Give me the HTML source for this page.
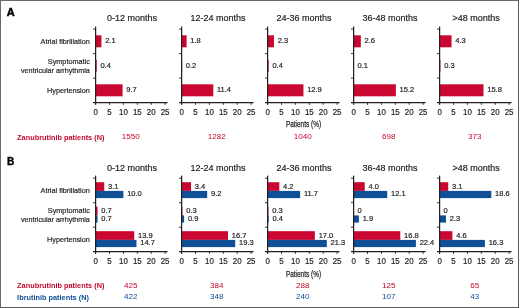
<!DOCTYPE html>
<html lang="en"><head><meta charset="utf-8"><title>Figure</title>
<style>
html,body{margin:0;padding:0;background:#fff;}
body{width:520px;height:308px;overflow:hidden;position:relative;}
svg{position:absolute;left:0;top:0;display:block;will-change:transform;font-family:'Liberation Sans', Arial, Helvetica, sans-serif;}
.frame{position:absolute;left:0;top:0;width:516.5px;height:305.7px;border:1px solid #5a5a5a;border-left-color:#6a6a6a;border-top-color:#6a6a6a;border-right-width:1.4px;}
</style></head><body>
<div class="frame"></div>
<svg width="520" height="308" viewBox="0 0 520 308">
<text x="0.00" y="0.00" font-size="10.5" text-anchor="start" fill="#000" font-weight="bold" stroke="#000" stroke-width="0.45" transform="translate(6.70,15.80) scale(1.05,1)">A</text>
<text x="0.00" y="0.00" font-size="8.0" text-anchor="end" fill="#231f20" font-weight="normal"  transform="translate(89.80,44.00) scale(0.91,1)" stroke="#231f20" stroke-width="0.2">Atrial fibrillation</text>
<text x="0.00" y="0.00" font-size="8.0" text-anchor="end" fill="#231f20" font-weight="normal"  transform="translate(89.80,63.80) scale(0.91,1)" stroke="#231f20" stroke-width="0.2">Symptomatic</text>
<text x="0.00" y="0.00" font-size="8.0" text-anchor="end" fill="#231f20" font-weight="normal" textLength="75.7" lengthAdjust="spacingAndGlyphs" transform="translate(89.80,73.00) scale(0.91,1)" stroke="#231f20" stroke-width="0.2">ventricular arrhythmia</text>
<text x="0.00" y="0.00" font-size="8.0" text-anchor="end" fill="#231f20" font-weight="normal"  transform="translate(89.80,93.00) scale(0.91,1)" stroke="#231f20" stroke-width="0.2">Hypertension</text>
<text x="132.10" y="21.20" font-size="9" text-anchor="middle" fill="#231f20" font-weight="normal"  stroke="#231f20" stroke-width="0.2">0-12 months</text>
<rect x="95.60" y="35.30" width="5.84" height="12" fill="#ca0730"/>
<text x="105.14" y="43.10" font-size="7.5" text-anchor="start" fill="#231f20" font-weight="normal"  stroke="#231f20" stroke-width="0.2">2.1</text>
<rect x="95.60" y="59.80" width="1.11" height="12" fill="#ca0730"/>
<text x="100.41" y="67.60" font-size="7.5" text-anchor="start" fill="#231f20" font-weight="normal"  stroke="#231f20" stroke-width="0.2">0.4</text>
<rect x="95.60" y="84.30" width="26.97" height="12" fill="#ca0730"/>
<text x="126.27" y="92.10" font-size="7.5" text-anchor="start" fill="#231f20" font-weight="normal"  stroke="#231f20" stroke-width="0.2">9.7</text>
<line x1="95.60" y1="26.50" x2="95.60" y2="104.80" stroke="#231f20" stroke-width="1.25"/>
<line x1="93.00" y1="102.60" x2="167.60" y2="102.60" stroke="#231f20" stroke-width="1.25"/>
<line x1="93.00" y1="29.10" x2="95.60" y2="29.10" stroke="#231f20" stroke-width="0.9"/>
<line x1="93.00" y1="53.60" x2="95.60" y2="53.60" stroke="#231f20" stroke-width="0.9"/>
<line x1="93.00" y1="78.10" x2="95.60" y2="78.10" stroke="#231f20" stroke-width="0.9"/>
<text x="0.00" y="0.00" font-size="8.7" text-anchor="middle" fill="#231f20" font-weight="normal" transform="translate(95.60,115.40) scale(0.91,1)" stroke="#231f20" stroke-width="0.2">0</text>
<line x1="109.50" y1="102.60" x2="109.50" y2="104.80" stroke="#231f20" stroke-width="0.9"/>
<text x="0.00" y="0.00" font-size="8.7" text-anchor="middle" fill="#231f20" font-weight="normal" transform="translate(109.50,115.40) scale(0.91,1)" stroke="#231f20" stroke-width="0.2">5</text>
<line x1="123.40" y1="102.60" x2="123.40" y2="104.80" stroke="#231f20" stroke-width="0.9"/>
<text x="0.00" y="0.00" font-size="8.7" text-anchor="middle" fill="#231f20" font-weight="normal" transform="translate(123.40,115.40) scale(0.91,1)" stroke="#231f20" stroke-width="0.2">10</text>
<line x1="137.30" y1="102.60" x2="137.30" y2="104.80" stroke="#231f20" stroke-width="0.9"/>
<text x="0.00" y="0.00" font-size="8.7" text-anchor="middle" fill="#231f20" font-weight="normal" transform="translate(137.30,115.40) scale(0.91,1)" stroke="#231f20" stroke-width="0.2">15</text>
<line x1="151.20" y1="102.60" x2="151.20" y2="104.80" stroke="#231f20" stroke-width="0.9"/>
<text x="0.00" y="0.00" font-size="8.7" text-anchor="middle" fill="#231f20" font-weight="normal" transform="translate(151.20,115.40) scale(0.91,1)" stroke="#231f20" stroke-width="0.2">20</text>
<line x1="165.10" y1="102.60" x2="165.10" y2="104.80" stroke="#231f20" stroke-width="0.9"/>
<text x="0.00" y="0.00" font-size="8.7" text-anchor="middle" fill="#231f20" font-weight="normal" transform="translate(165.10,115.40) scale(0.91,1)" stroke="#231f20" stroke-width="0.2">25</text>
<text x="130.70" y="139.10" font-size="8.1" text-anchor="middle" fill="#c20a2d" font-weight="normal" stroke="none">1550</text>
<text x="218.10" y="21.20" font-size="9" text-anchor="middle" fill="#231f20" font-weight="normal"  stroke="#231f20" stroke-width="0.2">12-24 months</text>
<rect x="181.60" y="35.30" width="5.00" height="12" fill="#ca0730"/>
<text x="190.30" y="43.10" font-size="7.5" text-anchor="start" fill="#231f20" font-weight="normal"  stroke="#231f20" stroke-width="0.2">1.8</text>
<rect x="181.60" y="59.80" width="0.56" height="12" fill="#ca0730"/>
<text x="185.86" y="67.60" font-size="7.5" text-anchor="start" fill="#231f20" font-weight="normal"  stroke="#231f20" stroke-width="0.2">0.2</text>
<rect x="181.60" y="84.30" width="31.69" height="12" fill="#ca0730"/>
<text x="216.99" y="92.10" font-size="7.5" text-anchor="start" fill="#231f20" font-weight="normal"  stroke="#231f20" stroke-width="0.2">11.4</text>
<line x1="181.60" y1="26.50" x2="181.60" y2="104.80" stroke="#231f20" stroke-width="1.25"/>
<line x1="179.00" y1="102.60" x2="253.60" y2="102.60" stroke="#231f20" stroke-width="1.25"/>
<line x1="179.00" y1="29.10" x2="181.60" y2="29.10" stroke="#231f20" stroke-width="0.9"/>
<line x1="179.00" y1="53.60" x2="181.60" y2="53.60" stroke="#231f20" stroke-width="0.9"/>
<line x1="179.00" y1="78.10" x2="181.60" y2="78.10" stroke="#231f20" stroke-width="0.9"/>
<text x="0.00" y="0.00" font-size="8.7" text-anchor="middle" fill="#231f20" font-weight="normal" transform="translate(181.60,115.40) scale(0.91,1)" stroke="#231f20" stroke-width="0.2">0</text>
<line x1="195.50" y1="102.60" x2="195.50" y2="104.80" stroke="#231f20" stroke-width="0.9"/>
<text x="0.00" y="0.00" font-size="8.7" text-anchor="middle" fill="#231f20" font-weight="normal" transform="translate(195.50,115.40) scale(0.91,1)" stroke="#231f20" stroke-width="0.2">5</text>
<line x1="209.40" y1="102.60" x2="209.40" y2="104.80" stroke="#231f20" stroke-width="0.9"/>
<text x="0.00" y="0.00" font-size="8.7" text-anchor="middle" fill="#231f20" font-weight="normal" transform="translate(209.40,115.40) scale(0.91,1)" stroke="#231f20" stroke-width="0.2">10</text>
<line x1="223.30" y1="102.60" x2="223.30" y2="104.80" stroke="#231f20" stroke-width="0.9"/>
<text x="0.00" y="0.00" font-size="8.7" text-anchor="middle" fill="#231f20" font-weight="normal" transform="translate(223.30,115.40) scale(0.91,1)" stroke="#231f20" stroke-width="0.2">15</text>
<line x1="237.20" y1="102.60" x2="237.20" y2="104.80" stroke="#231f20" stroke-width="0.9"/>
<text x="0.00" y="0.00" font-size="8.7" text-anchor="middle" fill="#231f20" font-weight="normal" transform="translate(237.20,115.40) scale(0.91,1)" stroke="#231f20" stroke-width="0.2">20</text>
<line x1="251.10" y1="102.60" x2="251.10" y2="104.80" stroke="#231f20" stroke-width="0.9"/>
<text x="0.00" y="0.00" font-size="8.7" text-anchor="middle" fill="#231f20" font-weight="normal" transform="translate(251.10,115.40) scale(0.91,1)" stroke="#231f20" stroke-width="0.2">25</text>
<text x="216.70" y="139.10" font-size="8.1" text-anchor="middle" fill="#c20a2d" font-weight="normal" stroke="none">1282</text>
<text x="304.10" y="21.20" font-size="9" text-anchor="middle" fill="#231f20" font-weight="normal"  stroke="#231f20" stroke-width="0.2">24-36 months</text>
<rect x="267.60" y="35.30" width="6.39" height="12" fill="#ca0730"/>
<text x="277.69" y="43.10" font-size="7.5" text-anchor="start" fill="#231f20" font-weight="normal"  stroke="#231f20" stroke-width="0.2">2.3</text>
<rect x="267.60" y="59.80" width="1.11" height="12" fill="#ca0730"/>
<text x="272.41" y="67.60" font-size="7.5" text-anchor="start" fill="#231f20" font-weight="normal"  stroke="#231f20" stroke-width="0.2">0.4</text>
<rect x="267.60" y="84.30" width="35.86" height="12" fill="#ca0730"/>
<text x="307.16" y="92.10" font-size="7.5" text-anchor="start" fill="#231f20" font-weight="normal"  stroke="#231f20" stroke-width="0.2">12.9</text>
<line x1="267.60" y1="26.50" x2="267.60" y2="104.80" stroke="#231f20" stroke-width="1.25"/>
<line x1="265.00" y1="102.60" x2="339.60" y2="102.60" stroke="#231f20" stroke-width="1.25"/>
<line x1="265.00" y1="29.10" x2="267.60" y2="29.10" stroke="#231f20" stroke-width="0.9"/>
<line x1="265.00" y1="53.60" x2="267.60" y2="53.60" stroke="#231f20" stroke-width="0.9"/>
<line x1="265.00" y1="78.10" x2="267.60" y2="78.10" stroke="#231f20" stroke-width="0.9"/>
<text x="0.00" y="0.00" font-size="8.7" text-anchor="middle" fill="#231f20" font-weight="normal" transform="translate(267.60,115.40) scale(0.91,1)" stroke="#231f20" stroke-width="0.2">0</text>
<line x1="281.50" y1="102.60" x2="281.50" y2="104.80" stroke="#231f20" stroke-width="0.9"/>
<text x="0.00" y="0.00" font-size="8.7" text-anchor="middle" fill="#231f20" font-weight="normal" transform="translate(281.50,115.40) scale(0.91,1)" stroke="#231f20" stroke-width="0.2">5</text>
<line x1="295.40" y1="102.60" x2="295.40" y2="104.80" stroke="#231f20" stroke-width="0.9"/>
<text x="0.00" y="0.00" font-size="8.7" text-anchor="middle" fill="#231f20" font-weight="normal" transform="translate(295.40,115.40) scale(0.91,1)" stroke="#231f20" stroke-width="0.2">10</text>
<line x1="309.30" y1="102.60" x2="309.30" y2="104.80" stroke="#231f20" stroke-width="0.9"/>
<text x="0.00" y="0.00" font-size="8.7" text-anchor="middle" fill="#231f20" font-weight="normal" transform="translate(309.30,115.40) scale(0.91,1)" stroke="#231f20" stroke-width="0.2">15</text>
<line x1="323.20" y1="102.60" x2="323.20" y2="104.80" stroke="#231f20" stroke-width="0.9"/>
<text x="0.00" y="0.00" font-size="8.7" text-anchor="middle" fill="#231f20" font-weight="normal" transform="translate(323.20,115.40) scale(0.91,1)" stroke="#231f20" stroke-width="0.2">20</text>
<line x1="337.10" y1="102.60" x2="337.10" y2="104.80" stroke="#231f20" stroke-width="0.9"/>
<text x="0.00" y="0.00" font-size="8.7" text-anchor="middle" fill="#231f20" font-weight="normal" transform="translate(337.10,115.40) scale(0.91,1)" stroke="#231f20" stroke-width="0.2">25</text>
<text x="302.70" y="139.10" font-size="8.1" text-anchor="middle" fill="#c20a2d" font-weight="normal" stroke="none">1040</text>
<text x="390.10" y="21.20" font-size="9" text-anchor="middle" fill="#231f20" font-weight="normal"  stroke="#231f20" stroke-width="0.2">36-48 months</text>
<rect x="353.60" y="35.30" width="7.23" height="12" fill="#ca0730"/>
<text x="364.53" y="43.10" font-size="7.5" text-anchor="start" fill="#231f20" font-weight="normal"  stroke="#231f20" stroke-width="0.2">2.6</text>
<rect x="353.60" y="59.80" width="0.28" height="12" fill="#ca0730"/>
<text x="357.58" y="67.60" font-size="7.5" text-anchor="start" fill="#231f20" font-weight="normal"  stroke="#231f20" stroke-width="0.2">0.1</text>
<rect x="353.60" y="84.30" width="42.26" height="12" fill="#ca0730"/>
<text x="399.56" y="92.10" font-size="7.5" text-anchor="start" fill="#231f20" font-weight="normal"  stroke="#231f20" stroke-width="0.2">15.2</text>
<line x1="353.60" y1="26.50" x2="353.60" y2="104.80" stroke="#231f20" stroke-width="1.25"/>
<line x1="351.00" y1="102.60" x2="425.60" y2="102.60" stroke="#231f20" stroke-width="1.25"/>
<line x1="351.00" y1="29.10" x2="353.60" y2="29.10" stroke="#231f20" stroke-width="0.9"/>
<line x1="351.00" y1="53.60" x2="353.60" y2="53.60" stroke="#231f20" stroke-width="0.9"/>
<line x1="351.00" y1="78.10" x2="353.60" y2="78.10" stroke="#231f20" stroke-width="0.9"/>
<text x="0.00" y="0.00" font-size="8.7" text-anchor="middle" fill="#231f20" font-weight="normal" transform="translate(353.60,115.40) scale(0.91,1)" stroke="#231f20" stroke-width="0.2">0</text>
<line x1="367.50" y1="102.60" x2="367.50" y2="104.80" stroke="#231f20" stroke-width="0.9"/>
<text x="0.00" y="0.00" font-size="8.7" text-anchor="middle" fill="#231f20" font-weight="normal" transform="translate(367.50,115.40) scale(0.91,1)" stroke="#231f20" stroke-width="0.2">5</text>
<line x1="381.40" y1="102.60" x2="381.40" y2="104.80" stroke="#231f20" stroke-width="0.9"/>
<text x="0.00" y="0.00" font-size="8.7" text-anchor="middle" fill="#231f20" font-weight="normal" transform="translate(381.40,115.40) scale(0.91,1)" stroke="#231f20" stroke-width="0.2">10</text>
<line x1="395.30" y1="102.60" x2="395.30" y2="104.80" stroke="#231f20" stroke-width="0.9"/>
<text x="0.00" y="0.00" font-size="8.7" text-anchor="middle" fill="#231f20" font-weight="normal" transform="translate(395.30,115.40) scale(0.91,1)" stroke="#231f20" stroke-width="0.2">15</text>
<line x1="409.20" y1="102.60" x2="409.20" y2="104.80" stroke="#231f20" stroke-width="0.9"/>
<text x="0.00" y="0.00" font-size="8.7" text-anchor="middle" fill="#231f20" font-weight="normal" transform="translate(409.20,115.40) scale(0.91,1)" stroke="#231f20" stroke-width="0.2">20</text>
<line x1="423.10" y1="102.60" x2="423.10" y2="104.80" stroke="#231f20" stroke-width="0.9"/>
<text x="0.00" y="0.00" font-size="8.7" text-anchor="middle" fill="#231f20" font-weight="normal" transform="translate(423.10,115.40) scale(0.91,1)" stroke="#231f20" stroke-width="0.2">25</text>
<text x="388.70" y="139.10" font-size="8.1" text-anchor="middle" fill="#c20a2d" font-weight="normal" stroke="none">698</text>
<text x="476.10" y="21.20" font-size="9" text-anchor="middle" fill="#231f20" font-weight="normal"  stroke="#231f20" stroke-width="0.2">&gt;48 months</text>
<rect x="439.60" y="35.30" width="11.95" height="12" fill="#ca0730"/>
<text x="455.25" y="43.10" font-size="7.5" text-anchor="start" fill="#231f20" font-weight="normal"  stroke="#231f20" stroke-width="0.2">4.3</text>
<rect x="439.60" y="59.80" width="0.83" height="12" fill="#ca0730"/>
<text x="444.13" y="67.60" font-size="7.5" text-anchor="start" fill="#231f20" font-weight="normal"  stroke="#231f20" stroke-width="0.2">0.3</text>
<rect x="439.60" y="84.30" width="43.92" height="12" fill="#ca0730"/>
<text x="487.22" y="92.10" font-size="7.5" text-anchor="start" fill="#231f20" font-weight="normal"  stroke="#231f20" stroke-width="0.2">15.8</text>
<line x1="439.60" y1="26.50" x2="439.60" y2="104.80" stroke="#231f20" stroke-width="1.25"/>
<line x1="437.00" y1="102.60" x2="511.60" y2="102.60" stroke="#231f20" stroke-width="1.25"/>
<line x1="437.00" y1="29.10" x2="439.60" y2="29.10" stroke="#231f20" stroke-width="0.9"/>
<line x1="437.00" y1="53.60" x2="439.60" y2="53.60" stroke="#231f20" stroke-width="0.9"/>
<line x1="437.00" y1="78.10" x2="439.60" y2="78.10" stroke="#231f20" stroke-width="0.9"/>
<text x="0.00" y="0.00" font-size="8.7" text-anchor="middle" fill="#231f20" font-weight="normal" transform="translate(439.60,115.40) scale(0.91,1)" stroke="#231f20" stroke-width="0.2">0</text>
<line x1="453.50" y1="102.60" x2="453.50" y2="104.80" stroke="#231f20" stroke-width="0.9"/>
<text x="0.00" y="0.00" font-size="8.7" text-anchor="middle" fill="#231f20" font-weight="normal" transform="translate(453.50,115.40) scale(0.91,1)" stroke="#231f20" stroke-width="0.2">5</text>
<line x1="467.40" y1="102.60" x2="467.40" y2="104.80" stroke="#231f20" stroke-width="0.9"/>
<text x="0.00" y="0.00" font-size="8.7" text-anchor="middle" fill="#231f20" font-weight="normal" transform="translate(467.40,115.40) scale(0.91,1)" stroke="#231f20" stroke-width="0.2">10</text>
<line x1="481.30" y1="102.60" x2="481.30" y2="104.80" stroke="#231f20" stroke-width="0.9"/>
<text x="0.00" y="0.00" font-size="8.7" text-anchor="middle" fill="#231f20" font-weight="normal" transform="translate(481.30,115.40) scale(0.91,1)" stroke="#231f20" stroke-width="0.2">15</text>
<line x1="495.20" y1="102.60" x2="495.20" y2="104.80" stroke="#231f20" stroke-width="0.9"/>
<text x="0.00" y="0.00" font-size="8.7" text-anchor="middle" fill="#231f20" font-weight="normal" transform="translate(495.20,115.40) scale(0.91,1)" stroke="#231f20" stroke-width="0.2">20</text>
<line x1="509.10" y1="102.60" x2="509.10" y2="104.80" stroke="#231f20" stroke-width="0.9"/>
<text x="0.00" y="0.00" font-size="8.7" text-anchor="middle" fill="#231f20" font-weight="normal" transform="translate(509.10,115.40) scale(0.91,1)" stroke="#231f20" stroke-width="0.2">25</text>
<text x="474.70" y="139.10" font-size="8.1" text-anchor="middle" fill="#c20a2d" font-weight="normal" stroke="none">373</text>
<text x="303.50" y="127.10" font-size="9" text-anchor="middle" fill="#231f20" font-weight="normal" textLength="35.2" lengthAdjust="spacingAndGlyphs" stroke="#231f20" stroke-width="0.25">Patients (%)</text>
<text x="0.00" y="0.00" font-size="8.0" text-anchor="start" fill="#c20a2d" font-weight="bold"  transform="translate(17.10,139.60) scale(0.92,1)">Zanubrutinib patients (N)</text>
<text x="0.00" y="0.00" font-size="10.3" text-anchor="start" fill="#000" font-weight="bold" stroke="#000" stroke-width="0.35" transform="translate(7.00,165.00) scale(0.98,1)">B</text>
<text x="0.00" y="0.00" font-size="8.0" text-anchor="end" fill="#231f20" font-weight="normal"  transform="translate(89.80,193.10) scale(0.91,1)" stroke="#231f20" stroke-width="0.2">Atrial fibrillation</text>
<text x="0.00" y="0.00" font-size="8.0" text-anchor="end" fill="#231f20" font-weight="normal"  transform="translate(89.80,212.90) scale(0.91,1)" stroke="#231f20" stroke-width="0.2">Symptomatic</text>
<text x="0.00" y="0.00" font-size="8.0" text-anchor="end" fill="#231f20" font-weight="normal" textLength="75.7" lengthAdjust="spacingAndGlyphs" transform="translate(89.80,222.10) scale(0.91,1)" stroke="#231f20" stroke-width="0.2">ventricular arrhythmia</text>
<text x="0.00" y="0.00" font-size="8.0" text-anchor="end" fill="#231f20" font-weight="normal"  transform="translate(89.80,242.10) scale(0.91,1)" stroke="#231f20" stroke-width="0.2">Hypertension</text>
<text x="132.10" y="170.60" font-size="9" text-anchor="middle" fill="#231f20" font-weight="normal"  stroke="#231f20" stroke-width="0.2">0-12 months</text>
<rect x="95.60" y="182.20" width="8.62" height="8.7" fill="#ca0730"/>
<rect x="95.60" y="190.90" width="27.80" height="7.2" fill="#0e4f95"/>
<text x="108.02" y="188.50" font-size="7.5" text-anchor="start" fill="#231f20" font-weight="normal"  stroke="#231f20" stroke-width="0.2">3.1</text>
<text x="127.20" y="196.40" font-size="7.5" text-anchor="start" fill="#231f20" font-weight="normal"  stroke="#231f20" stroke-width="0.2">10.0</text>
<rect x="95.60" y="206.70" width="1.95" height="8.7" fill="#ca0730"/>
<rect x="95.60" y="215.40" width="1.95" height="7.2" fill="#0e4f95"/>
<text x="101.35" y="213.00" font-size="7.5" text-anchor="start" fill="#231f20" font-weight="normal"  stroke="#231f20" stroke-width="0.2">0.7</text>
<text x="101.35" y="220.90" font-size="7.5" text-anchor="start" fill="#231f20" font-weight="normal"  stroke="#231f20" stroke-width="0.2">0.7</text>
<rect x="95.60" y="231.20" width="38.64" height="8.7" fill="#ca0730"/>
<rect x="95.60" y="239.90" width="40.87" height="7.2" fill="#0e4f95"/>
<text x="138.04" y="237.50" font-size="7.5" text-anchor="start" fill="#231f20" font-weight="normal"  stroke="#231f20" stroke-width="0.2">13.9</text>
<text x="140.27" y="245.40" font-size="7.5" text-anchor="start" fill="#231f20" font-weight="normal"  stroke="#231f20" stroke-width="0.2">14.7</text>
<line x1="95.60" y1="175.60" x2="95.60" y2="253.90" stroke="#231f20" stroke-width="1.25"/>
<line x1="93.00" y1="251.70" x2="167.60" y2="251.70" stroke="#231f20" stroke-width="1.25"/>
<line x1="93.00" y1="178.20" x2="95.60" y2="178.20" stroke="#231f20" stroke-width="0.9"/>
<line x1="93.00" y1="202.70" x2="95.60" y2="202.70" stroke="#231f20" stroke-width="0.9"/>
<line x1="93.00" y1="227.20" x2="95.60" y2="227.20" stroke="#231f20" stroke-width="0.9"/>
<text x="0.00" y="0.00" font-size="8.7" text-anchor="middle" fill="#231f20" font-weight="normal" transform="translate(95.60,264.10) scale(0.91,1)" stroke="#231f20" stroke-width="0.2">0</text>
<line x1="109.50" y1="251.70" x2="109.50" y2="253.90" stroke="#231f20" stroke-width="0.9"/>
<text x="0.00" y="0.00" font-size="8.7" text-anchor="middle" fill="#231f20" font-weight="normal" transform="translate(109.50,264.10) scale(0.91,1)" stroke="#231f20" stroke-width="0.2">5</text>
<line x1="123.40" y1="251.70" x2="123.40" y2="253.90" stroke="#231f20" stroke-width="0.9"/>
<text x="0.00" y="0.00" font-size="8.7" text-anchor="middle" fill="#231f20" font-weight="normal" transform="translate(123.40,264.10) scale(0.91,1)" stroke="#231f20" stroke-width="0.2">10</text>
<line x1="137.30" y1="251.70" x2="137.30" y2="253.90" stroke="#231f20" stroke-width="0.9"/>
<text x="0.00" y="0.00" font-size="8.7" text-anchor="middle" fill="#231f20" font-weight="normal" transform="translate(137.30,264.10) scale(0.91,1)" stroke="#231f20" stroke-width="0.2">15</text>
<line x1="151.20" y1="251.70" x2="151.20" y2="253.90" stroke="#231f20" stroke-width="0.9"/>
<text x="0.00" y="0.00" font-size="8.7" text-anchor="middle" fill="#231f20" font-weight="normal" transform="translate(151.20,264.10) scale(0.91,1)" stroke="#231f20" stroke-width="0.2">20</text>
<line x1="165.10" y1="251.70" x2="165.10" y2="253.90" stroke="#231f20" stroke-width="0.9"/>
<text x="0.00" y="0.00" font-size="8.7" text-anchor="middle" fill="#231f20" font-weight="normal" transform="translate(165.10,264.10) scale(0.91,1)" stroke="#231f20" stroke-width="0.2">25</text>
<text x="130.70" y="288.10" font-size="8.1" text-anchor="middle" fill="#c20a2d" font-weight="normal" stroke="none">425</text>
<text x="130.70" y="299.40" font-size="8.1" text-anchor="middle" fill="#0e4f95" font-weight="normal" stroke="none">422</text>
<text x="218.10" y="170.60" font-size="9" text-anchor="middle" fill="#231f20" font-weight="normal"  stroke="#231f20" stroke-width="0.2">12-24 months</text>
<rect x="181.60" y="182.20" width="9.45" height="8.7" fill="#ca0730"/>
<rect x="181.60" y="190.90" width="25.58" height="7.2" fill="#0e4f95"/>
<text x="194.85" y="188.50" font-size="7.5" text-anchor="start" fill="#231f20" font-weight="normal"  stroke="#231f20" stroke-width="0.2">3.4</text>
<text x="210.98" y="196.40" font-size="7.5" text-anchor="start" fill="#231f20" font-weight="normal"  stroke="#231f20" stroke-width="0.2">9.2</text>
<rect x="181.60" y="206.70" width="0.83" height="8.7" fill="#ca0730"/>
<rect x="181.60" y="215.40" width="2.50" height="7.2" fill="#0e4f95"/>
<text x="186.23" y="213.00" font-size="7.5" text-anchor="start" fill="#231f20" font-weight="normal"  stroke="#231f20" stroke-width="0.2">0.3</text>
<text x="187.90" y="220.90" font-size="7.5" text-anchor="start" fill="#231f20" font-weight="normal"  stroke="#231f20" stroke-width="0.2">0.9</text>
<rect x="181.60" y="231.20" width="46.43" height="8.7" fill="#ca0730"/>
<rect x="181.60" y="239.90" width="53.65" height="7.2" fill="#0e4f95"/>
<text x="231.83" y="237.50" font-size="7.5" text-anchor="start" fill="#231f20" font-weight="normal"  stroke="#231f20" stroke-width="0.2">16.7</text>
<text x="239.05" y="245.40" font-size="7.5" text-anchor="start" fill="#231f20" font-weight="normal"  stroke="#231f20" stroke-width="0.2">19.3</text>
<line x1="181.60" y1="175.60" x2="181.60" y2="253.90" stroke="#231f20" stroke-width="1.25"/>
<line x1="179.00" y1="251.70" x2="253.60" y2="251.70" stroke="#231f20" stroke-width="1.25"/>
<line x1="179.00" y1="178.20" x2="181.60" y2="178.20" stroke="#231f20" stroke-width="0.9"/>
<line x1="179.00" y1="202.70" x2="181.60" y2="202.70" stroke="#231f20" stroke-width="0.9"/>
<line x1="179.00" y1="227.20" x2="181.60" y2="227.20" stroke="#231f20" stroke-width="0.9"/>
<text x="0.00" y="0.00" font-size="8.7" text-anchor="middle" fill="#231f20" font-weight="normal" transform="translate(181.60,264.10) scale(0.91,1)" stroke="#231f20" stroke-width="0.2">0</text>
<line x1="195.50" y1="251.70" x2="195.50" y2="253.90" stroke="#231f20" stroke-width="0.9"/>
<text x="0.00" y="0.00" font-size="8.7" text-anchor="middle" fill="#231f20" font-weight="normal" transform="translate(195.50,264.10) scale(0.91,1)" stroke="#231f20" stroke-width="0.2">5</text>
<line x1="209.40" y1="251.70" x2="209.40" y2="253.90" stroke="#231f20" stroke-width="0.9"/>
<text x="0.00" y="0.00" font-size="8.7" text-anchor="middle" fill="#231f20" font-weight="normal" transform="translate(209.40,264.10) scale(0.91,1)" stroke="#231f20" stroke-width="0.2">10</text>
<line x1="223.30" y1="251.70" x2="223.30" y2="253.90" stroke="#231f20" stroke-width="0.9"/>
<text x="0.00" y="0.00" font-size="8.7" text-anchor="middle" fill="#231f20" font-weight="normal" transform="translate(223.30,264.10) scale(0.91,1)" stroke="#231f20" stroke-width="0.2">15</text>
<line x1="237.20" y1="251.70" x2="237.20" y2="253.90" stroke="#231f20" stroke-width="0.9"/>
<text x="0.00" y="0.00" font-size="8.7" text-anchor="middle" fill="#231f20" font-weight="normal" transform="translate(237.20,264.10) scale(0.91,1)" stroke="#231f20" stroke-width="0.2">20</text>
<line x1="251.10" y1="251.70" x2="251.10" y2="253.90" stroke="#231f20" stroke-width="0.9"/>
<text x="0.00" y="0.00" font-size="8.7" text-anchor="middle" fill="#231f20" font-weight="normal" transform="translate(251.10,264.10) scale(0.91,1)" stroke="#231f20" stroke-width="0.2">25</text>
<text x="216.70" y="288.10" font-size="8.1" text-anchor="middle" fill="#c20a2d" font-weight="normal" stroke="none">384</text>
<text x="216.70" y="299.40" font-size="8.1" text-anchor="middle" fill="#0e4f95" font-weight="normal" stroke="none">348</text>
<text x="304.10" y="170.60" font-size="9" text-anchor="middle" fill="#231f20" font-weight="normal"  stroke="#231f20" stroke-width="0.2">24-36 months</text>
<rect x="267.60" y="182.20" width="11.68" height="8.7" fill="#ca0730"/>
<rect x="267.60" y="190.90" width="32.53" height="7.2" fill="#0e4f95"/>
<text x="283.08" y="188.50" font-size="7.5" text-anchor="start" fill="#231f20" font-weight="normal"  stroke="#231f20" stroke-width="0.2">4.2</text>
<text x="303.93" y="196.40" font-size="7.5" text-anchor="start" fill="#231f20" font-weight="normal"  stroke="#231f20" stroke-width="0.2">11.7</text>
<rect x="267.60" y="206.70" width="0.83" height="8.7" fill="#ca0730"/>
<rect x="267.60" y="215.40" width="1.11" height="7.2" fill="#0e4f95"/>
<text x="272.23" y="213.00" font-size="7.5" text-anchor="start" fill="#231f20" font-weight="normal"  stroke="#231f20" stroke-width="0.2">0.3</text>
<text x="272.51" y="220.90" font-size="7.5" text-anchor="start" fill="#231f20" font-weight="normal"  stroke="#231f20" stroke-width="0.2">0.4</text>
<rect x="267.60" y="231.20" width="47.26" height="8.7" fill="#ca0730"/>
<rect x="267.60" y="239.90" width="59.21" height="7.2" fill="#0e4f95"/>
<text x="318.66" y="237.50" font-size="7.5" text-anchor="start" fill="#231f20" font-weight="normal"  stroke="#231f20" stroke-width="0.2">17.0</text>
<text x="330.61" y="245.40" font-size="7.5" text-anchor="start" fill="#231f20" font-weight="normal"  stroke="#231f20" stroke-width="0.2">21.3</text>
<line x1="267.60" y1="175.60" x2="267.60" y2="253.90" stroke="#231f20" stroke-width="1.25"/>
<line x1="265.00" y1="251.70" x2="339.60" y2="251.70" stroke="#231f20" stroke-width="1.25"/>
<line x1="265.00" y1="178.20" x2="267.60" y2="178.20" stroke="#231f20" stroke-width="0.9"/>
<line x1="265.00" y1="202.70" x2="267.60" y2="202.70" stroke="#231f20" stroke-width="0.9"/>
<line x1="265.00" y1="227.20" x2="267.60" y2="227.20" stroke="#231f20" stroke-width="0.9"/>
<text x="0.00" y="0.00" font-size="8.7" text-anchor="middle" fill="#231f20" font-weight="normal" transform="translate(267.60,264.10) scale(0.91,1)" stroke="#231f20" stroke-width="0.2">0</text>
<line x1="281.50" y1="251.70" x2="281.50" y2="253.90" stroke="#231f20" stroke-width="0.9"/>
<text x="0.00" y="0.00" font-size="8.7" text-anchor="middle" fill="#231f20" font-weight="normal" transform="translate(281.50,264.10) scale(0.91,1)" stroke="#231f20" stroke-width="0.2">5</text>
<line x1="295.40" y1="251.70" x2="295.40" y2="253.90" stroke="#231f20" stroke-width="0.9"/>
<text x="0.00" y="0.00" font-size="8.7" text-anchor="middle" fill="#231f20" font-weight="normal" transform="translate(295.40,264.10) scale(0.91,1)" stroke="#231f20" stroke-width="0.2">10</text>
<line x1="309.30" y1="251.70" x2="309.30" y2="253.90" stroke="#231f20" stroke-width="0.9"/>
<text x="0.00" y="0.00" font-size="8.7" text-anchor="middle" fill="#231f20" font-weight="normal" transform="translate(309.30,264.10) scale(0.91,1)" stroke="#231f20" stroke-width="0.2">15</text>
<line x1="323.20" y1="251.70" x2="323.20" y2="253.90" stroke="#231f20" stroke-width="0.9"/>
<text x="0.00" y="0.00" font-size="8.7" text-anchor="middle" fill="#231f20" font-weight="normal" transform="translate(323.20,264.10) scale(0.91,1)" stroke="#231f20" stroke-width="0.2">20</text>
<line x1="337.10" y1="251.70" x2="337.10" y2="253.90" stroke="#231f20" stroke-width="0.9"/>
<text x="0.00" y="0.00" font-size="8.7" text-anchor="middle" fill="#231f20" font-weight="normal" transform="translate(337.10,264.10) scale(0.91,1)" stroke="#231f20" stroke-width="0.2">25</text>
<text x="302.70" y="288.10" font-size="8.1" text-anchor="middle" fill="#c20a2d" font-weight="normal" stroke="none">288</text>
<text x="302.70" y="299.40" font-size="8.1" text-anchor="middle" fill="#0e4f95" font-weight="normal" stroke="none">240</text>
<text x="390.10" y="170.60" font-size="9" text-anchor="middle" fill="#231f20" font-weight="normal"  stroke="#231f20" stroke-width="0.2">36-48 months</text>
<rect x="353.60" y="182.20" width="11.12" height="8.7" fill="#ca0730"/>
<rect x="353.60" y="190.90" width="33.64" height="7.2" fill="#0e4f95"/>
<text x="368.52" y="188.50" font-size="7.5" text-anchor="start" fill="#231f20" font-weight="normal"  stroke="#231f20" stroke-width="0.2">4.0</text>
<text x="391.04" y="196.40" font-size="7.5" text-anchor="start" fill="#231f20" font-weight="normal"  stroke="#231f20" stroke-width="0.2">12.1</text>
<rect x="353.60" y="206.70" width="0.00" height="8.7" fill="#ca0730"/>
<rect x="353.60" y="215.40" width="5.28" height="7.2" fill="#0e4f95"/>
<text x="357.40" y="213.00" font-size="7.5" text-anchor="start" fill="#231f20" font-weight="normal"  stroke="#231f20" stroke-width="0.2">0</text>
<text x="362.68" y="220.90" font-size="7.5" text-anchor="start" fill="#231f20" font-weight="normal"  stroke="#231f20" stroke-width="0.2">1.9</text>
<rect x="353.60" y="231.20" width="46.70" height="8.7" fill="#ca0730"/>
<rect x="353.60" y="239.90" width="62.27" height="7.2" fill="#0e4f95"/>
<text x="404.10" y="237.50" font-size="7.5" text-anchor="start" fill="#231f20" font-weight="normal"  stroke="#231f20" stroke-width="0.2">16.8</text>
<text x="419.67" y="245.40" font-size="7.5" text-anchor="start" fill="#231f20" font-weight="normal"  stroke="#231f20" stroke-width="0.2">22.4</text>
<line x1="353.60" y1="175.60" x2="353.60" y2="253.90" stroke="#231f20" stroke-width="1.25"/>
<line x1="351.00" y1="251.70" x2="425.60" y2="251.70" stroke="#231f20" stroke-width="1.25"/>
<line x1="351.00" y1="178.20" x2="353.60" y2="178.20" stroke="#231f20" stroke-width="0.9"/>
<line x1="351.00" y1="202.70" x2="353.60" y2="202.70" stroke="#231f20" stroke-width="0.9"/>
<line x1="351.00" y1="227.20" x2="353.60" y2="227.20" stroke="#231f20" stroke-width="0.9"/>
<text x="0.00" y="0.00" font-size="8.7" text-anchor="middle" fill="#231f20" font-weight="normal" transform="translate(353.60,264.10) scale(0.91,1)" stroke="#231f20" stroke-width="0.2">0</text>
<line x1="367.50" y1="251.70" x2="367.50" y2="253.90" stroke="#231f20" stroke-width="0.9"/>
<text x="0.00" y="0.00" font-size="8.7" text-anchor="middle" fill="#231f20" font-weight="normal" transform="translate(367.50,264.10) scale(0.91,1)" stroke="#231f20" stroke-width="0.2">5</text>
<line x1="381.40" y1="251.70" x2="381.40" y2="253.90" stroke="#231f20" stroke-width="0.9"/>
<text x="0.00" y="0.00" font-size="8.7" text-anchor="middle" fill="#231f20" font-weight="normal" transform="translate(381.40,264.10) scale(0.91,1)" stroke="#231f20" stroke-width="0.2">10</text>
<line x1="395.30" y1="251.70" x2="395.30" y2="253.90" stroke="#231f20" stroke-width="0.9"/>
<text x="0.00" y="0.00" font-size="8.7" text-anchor="middle" fill="#231f20" font-weight="normal" transform="translate(395.30,264.10) scale(0.91,1)" stroke="#231f20" stroke-width="0.2">15</text>
<line x1="409.20" y1="251.70" x2="409.20" y2="253.90" stroke="#231f20" stroke-width="0.9"/>
<text x="0.00" y="0.00" font-size="8.7" text-anchor="middle" fill="#231f20" font-weight="normal" transform="translate(409.20,264.10) scale(0.91,1)" stroke="#231f20" stroke-width="0.2">20</text>
<line x1="423.10" y1="251.70" x2="423.10" y2="253.90" stroke="#231f20" stroke-width="0.9"/>
<text x="0.00" y="0.00" font-size="8.7" text-anchor="middle" fill="#231f20" font-weight="normal" transform="translate(423.10,264.10) scale(0.91,1)" stroke="#231f20" stroke-width="0.2">25</text>
<text x="388.70" y="288.10" font-size="8.1" text-anchor="middle" fill="#c20a2d" font-weight="normal" stroke="none">125</text>
<text x="388.70" y="299.40" font-size="8.1" text-anchor="middle" fill="#0e4f95" font-weight="normal" stroke="none">107</text>
<text x="476.10" y="170.60" font-size="9" text-anchor="middle" fill="#231f20" font-weight="normal"  stroke="#231f20" stroke-width="0.2">&gt;48 months</text>
<rect x="439.60" y="182.20" width="8.62" height="8.7" fill="#ca0730"/>
<rect x="439.60" y="190.90" width="51.71" height="7.2" fill="#0e4f95"/>
<text x="452.02" y="188.50" font-size="7.5" text-anchor="start" fill="#231f20" font-weight="normal"  stroke="#231f20" stroke-width="0.2">3.1</text>
<text x="495.11" y="196.40" font-size="7.5" text-anchor="start" fill="#231f20" font-weight="normal"  stroke="#231f20" stroke-width="0.2">18.6</text>
<rect x="439.60" y="206.70" width="0.00" height="8.7" fill="#ca0730"/>
<rect x="439.60" y="215.40" width="6.39" height="7.2" fill="#0e4f95"/>
<text x="443.40" y="213.00" font-size="7.5" text-anchor="start" fill="#231f20" font-weight="normal"  stroke="#231f20" stroke-width="0.2">0</text>
<text x="449.79" y="220.90" font-size="7.5" text-anchor="start" fill="#231f20" font-weight="normal"  stroke="#231f20" stroke-width="0.2">2.3</text>
<rect x="439.60" y="231.20" width="12.79" height="8.7" fill="#ca0730"/>
<rect x="439.60" y="239.90" width="45.31" height="7.2" fill="#0e4f95"/>
<text x="456.19" y="237.50" font-size="7.5" text-anchor="start" fill="#231f20" font-weight="normal"  stroke="#231f20" stroke-width="0.2">4.6</text>
<text x="488.71" y="245.40" font-size="7.5" text-anchor="start" fill="#231f20" font-weight="normal"  stroke="#231f20" stroke-width="0.2">16.3</text>
<line x1="439.60" y1="175.60" x2="439.60" y2="253.90" stroke="#231f20" stroke-width="1.25"/>
<line x1="437.00" y1="251.70" x2="511.60" y2="251.70" stroke="#231f20" stroke-width="1.25"/>
<line x1="437.00" y1="178.20" x2="439.60" y2="178.20" stroke="#231f20" stroke-width="0.9"/>
<line x1="437.00" y1="202.70" x2="439.60" y2="202.70" stroke="#231f20" stroke-width="0.9"/>
<line x1="437.00" y1="227.20" x2="439.60" y2="227.20" stroke="#231f20" stroke-width="0.9"/>
<text x="0.00" y="0.00" font-size="8.7" text-anchor="middle" fill="#231f20" font-weight="normal" transform="translate(439.60,264.10) scale(0.91,1)" stroke="#231f20" stroke-width="0.2">0</text>
<line x1="453.50" y1="251.70" x2="453.50" y2="253.90" stroke="#231f20" stroke-width="0.9"/>
<text x="0.00" y="0.00" font-size="8.7" text-anchor="middle" fill="#231f20" font-weight="normal" transform="translate(453.50,264.10) scale(0.91,1)" stroke="#231f20" stroke-width="0.2">5</text>
<line x1="467.40" y1="251.70" x2="467.40" y2="253.90" stroke="#231f20" stroke-width="0.9"/>
<text x="0.00" y="0.00" font-size="8.7" text-anchor="middle" fill="#231f20" font-weight="normal" transform="translate(467.40,264.10) scale(0.91,1)" stroke="#231f20" stroke-width="0.2">10</text>
<line x1="481.30" y1="251.70" x2="481.30" y2="253.90" stroke="#231f20" stroke-width="0.9"/>
<text x="0.00" y="0.00" font-size="8.7" text-anchor="middle" fill="#231f20" font-weight="normal" transform="translate(481.30,264.10) scale(0.91,1)" stroke="#231f20" stroke-width="0.2">15</text>
<line x1="495.20" y1="251.70" x2="495.20" y2="253.90" stroke="#231f20" stroke-width="0.9"/>
<text x="0.00" y="0.00" font-size="8.7" text-anchor="middle" fill="#231f20" font-weight="normal" transform="translate(495.20,264.10) scale(0.91,1)" stroke="#231f20" stroke-width="0.2">20</text>
<line x1="509.10" y1="251.70" x2="509.10" y2="253.90" stroke="#231f20" stroke-width="0.9"/>
<text x="0.00" y="0.00" font-size="8.7" text-anchor="middle" fill="#231f20" font-weight="normal" transform="translate(509.10,264.10) scale(0.91,1)" stroke="#231f20" stroke-width="0.2">25</text>
<text x="474.70" y="288.10" font-size="8.1" text-anchor="middle" fill="#c20a2d" font-weight="normal" stroke="none">65</text>
<text x="474.70" y="299.40" font-size="8.1" text-anchor="middle" fill="#0e4f95" font-weight="normal" stroke="none">43</text>
<text x="303.50" y="276.50" font-size="9" text-anchor="middle" fill="#231f20" font-weight="normal" textLength="35.2" lengthAdjust="spacingAndGlyphs" stroke="#231f20" stroke-width="0.25">Patients (%)</text>
<text x="0.00" y="0.00" font-size="8.0" text-anchor="start" fill="#c20a2d" font-weight="bold"  transform="translate(17.10,288.10) scale(0.92,1)">Zanubrutinib patients (N)</text>
<text x="0.00" y="0.00" font-size="8.0" text-anchor="start" fill="#0e4f95" font-weight="bold"  transform="translate(17.10,299.60) scale(0.92,1)">Ibrutinib patients (N)</text>
</svg>
</body></html>
